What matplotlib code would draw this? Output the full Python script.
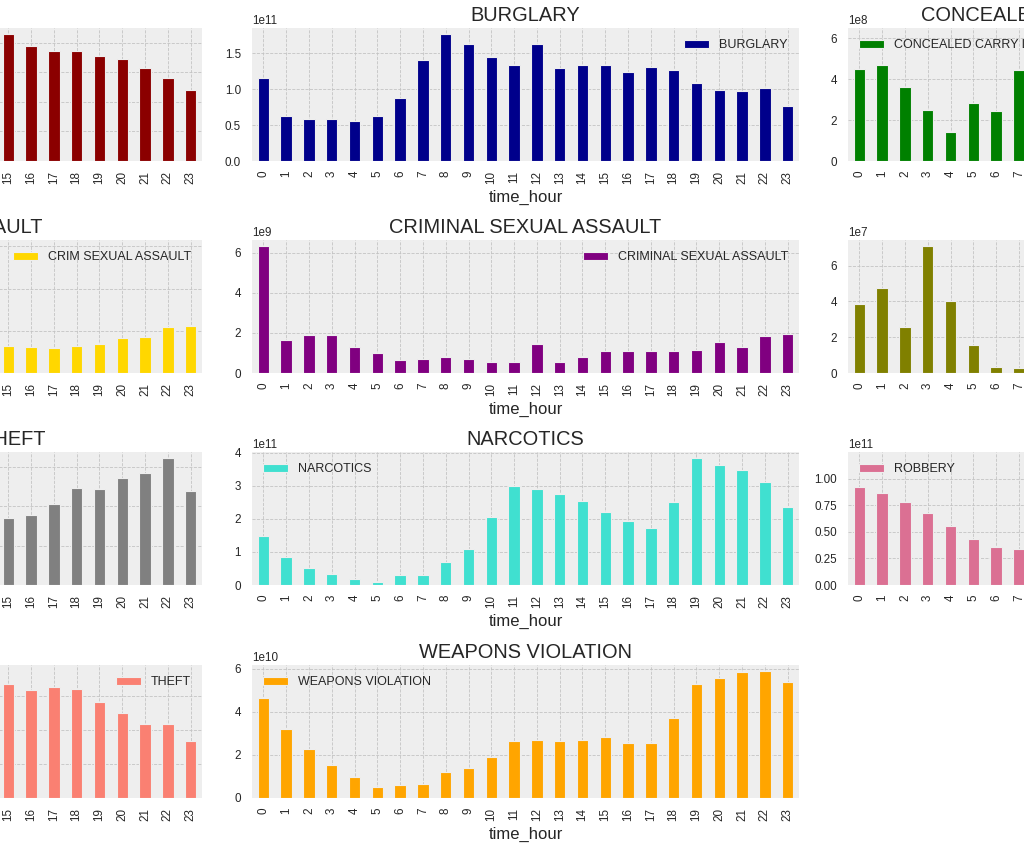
import numpy as np
import pandas as pd
import matplotlib
matplotlib.use("Agg")
import matplotlib.pyplot as plt

# Kriminalitaet nach Tageszeit (Werte als Mantisse, Exponent separat)
hours = list(range(24))

assault = [2.6, 2.0, 1.7, 1.4, 1.0, 0.9, 1.1, 1.7, 2.4, 2.9, 3.2, 3.4, 3.8, 3.9, 4.1,
           4.29, 3.91, 3.74, 3.71, 3.57, 3.47, 3.16, 2.82, 2.42]
burglary = [1.16, 0.63, 0.59, 0.59, 0.56, 0.62, 0.87, 1.41, 1.76, 1.62, 1.45, 1.34,
            1.63, 1.29, 1.33, 1.34, 1.24, 1.30, 1.27, 1.09, 0.99, 0.97, 1.01, 0.77]
concealed = [4.50, 4.70, 3.62, 2.50, 1.43, 2.84, 2.45, 4.45, 6.18, 5.0, 4.3, 3.6,
             4.1, 3.3, 3.5, 3.9, 3.4, 3.8, 4.0, 4.6, 5.2, 5.6, 4.9, 4.7]
crim_sa = [3.0, 1.0, 1.1, 1.0, 0.8, 0.6, 0.4, 0.45, 0.55, 0.6, 0.5, 0.5, 1.0, 0.55, 0.6,
           0.65, 0.62, 0.60, 0.65, 0.69, 0.83, 0.86, 1.09, 1.12]
criminal_sa = [6.33, 1.63, 1.88, 1.88, 1.30, 0.98, 0.67, 0.72, 0.82, 0.72, 0.57, 0.57,
               1.43, 0.57, 0.82, 1.08, 1.08, 1.08, 1.08, 1.13, 1.53, 1.28, 1.83, 1.93]
homicide = [3.87, 4.77, 2.59, 7.07, 4.04, 1.58, 0.35, 0.30, 0.6, 0.9, 1.2, 1.6,
            2.0, 1.3, 1.8, 2.4, 2.1, 2.9, 3.3, 4.1, 3.6, 5.2, 4.8, 5.5]
mv_theft = [2.6, 2.1, 1.8, 1.6, 1.3, 1.2, 1.4, 1.9, 2.2, 2.0, 1.8, 1.7, 2.3, 1.7, 1.6,
            1.70, 1.78, 2.06, 2.47, 2.44, 2.72, 2.85, 3.21, 2.37]
narcotics = [1.48, 0.85, 0.51, 0.33, 0.17, 0.09, 0.30, 0.30, 0.69, 1.09, 2.05, 2.99,
             2.90, 2.75, 2.54, 2.21, 1.93, 1.72, 2.51, 3.83, 3.63, 3.47, 3.11, 2.36]
robbery = [0.916, 0.869, 0.776, 0.673, 0.551, 0.430, 0.355, 0.336, 0.45, 0.55, 0.68, 0.78,
           0.95, 0.85, 0.88, 0.92, 0.98, 1.02, 1.08, 1.12, 1.19, 1.17, 1.15, 1.05]
theft = [2.4, 1.4, 1.1, 0.9, 0.6, 0.5, 0.8, 1.4, 2.2, 2.7, 3.1, 3.3, 3.73, 3.4, 3.4,
         3.36, 3.19, 3.27, 3.21, 2.83, 2.51, 2.19, 2.19, 1.69]
weapons = [4.62, 3.22, 2.25, 1.55, 0.99, 0.53, 0.62, 0.67, 1.22, 1.41, 1.92, 2.62,
           2.67, 2.62, 2.71, 2.85, 2.57, 2.57, 3.69, 5.27, 5.55, 5.83, 5.87, 5.36]

panels = [
    ("ASSAULT", assault, 11, "darkred", "upper left"),
    ("BURGLARY", burglary, 11, "darkblue", "upper right"),
    ("CONCEALED CARRY LICENSE VIOLATION", concealed, 8, "green", "upper left"),
    ("CRIM SEXUAL ASSAULT", crim_sa, 9, "gold", "upper right"),
    ("CRIMINAL SEXUAL ASSAULT", criminal_sa, 9, "purple", "upper right"),
    ("HOMICIDE", homicide, 7, "olive", "upper right"),
    ("MOTOR VEHICLE THEFT", mv_theft, 11, "gray", "upper left"),
    ("NARCOTICS", narcotics, 11, "turquoise", "upper left"),
    ("ROBBERY", robbery, 11, "palevioletred", "upper left"),
    ("THEFT", theft, 11, "salmon", "upper right"),
    ("WEAPONS VIOLATION", weapons, 10, "orange", "upper left"),
]

plt.rcParams['font.family'] = ['Liberation Sans', 'DejaVu Sans']
plt.rcParams['text.color'] = '#262626'
plt.rcParams['axes.labelcolor'] = '#262626'
plt.rcParams['xtick.color'] = '#262626'
plt.rcParams['ytick.color'] = '#262626'

fig = plt.figure(figsize=(10.24, 8.48), dpi=100)

# Spalten / Zeilen in Pixel (Figur ist links und rechts abgeschnitten)
col_left = [-345, 252, 848]
row_top = [28, 240, 452, 665]
ax_w, ax_h = 547, 133

for i, (name, vals, exp, color, loc) in enumerate(panels):
    r, c = divmod(i, 3)
    x0 = col_left[c] / 1024
    y0 = 1 - (row_top[r] + ax_h) / 848
    ax = fig.add_axes([x0, y0, ax_w / 1024, ax_h / 848])
    ax.set_facecolor('#eeeeee')
    ax.set_axisbelow(True)
    s = pd.Series(np.array(vals) * 10.0 ** exp, index=pd.Index(hours, name="time_hour"), name=name)
    s.plot(kind='bar', ax=ax, color=color, edgecolor='#eeeeee', linewidth=0.8, legend=False)
    ax.grid(True, color='#c4c4c4', linestyle='--', linewidth=0.6)
    for sp in ax.spines.values():
        sp.set_visible(False)
    ax.tick_params(axis='x', length=0, labelsize=8.4, pad=7)
    ax.tick_params(axis='y', length=0, labelsize=8.4, pad=8)
    ax.yaxis.get_offset_text().set_fontsize(8.4)
    ax.set_xlabel("time_hour", fontsize=12, labelpad=4.5)
    ax.set_title(name, fontsize=14.4, pad=5)
    ax.legend(loc=loc, frameon=False, fontsize=9)

fig.savefig("out.png", dpi=100)
